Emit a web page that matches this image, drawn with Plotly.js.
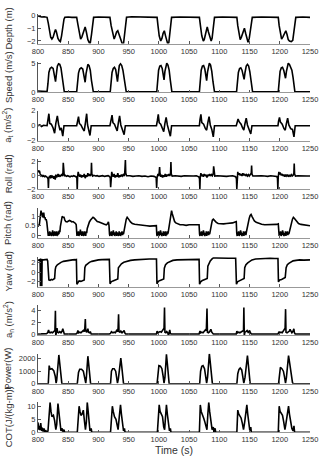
<!DOCTYPE html>
<html>
<head>
<meta charset="utf-8">
<script src="https://cdn.plot.ly/plotly-3.0.1.min.js"></script>
<style>
html, body { margin: 0; padding: 0; background: #fff; }
#chart { width: 324px; height: 461px; }
</style>
</head>
<body>
<div id="chart"></div>
<script>
// time ticks shared by every panel
const timeTicks = [800, 850, 900, 950, 1000, 1050, 1100, 1150, 1200, 1250];

// [time (s), value] pairs
const depth = [[800,-0.05],[803,-0.1],[806,-0.12],[810,-0.1],[813,-0.15],[815,-0.15],[817,-0.6],[819,-1.3],[821,-1.7],[823,-1.85],[825,-1.7],[827.5,-1.3],[829,-1.1],[830.5,-1.3],[833,-1.8],[835.5,-2.0],[837,-2.05],[839,-1.6],[841,-0.9],[843,-0.3],[844.5,-0.15],[850,-0.12],[856,-0.15],[864,-0.15],[866,-0.7],[868,-1.4],[870.5,-1.85],[872.5,-1.7],[875,-1.3],[878,-0.9],[880,-1.3],[882.5,-1.9],[885,-2.15],[886.5,-2.15],[888.5,-1.5],[890.5,-0.6],[892,-0.15],[900,-0.12],[910,-0.15],[919,-0.15],[921,-0.8],[923.5,-1.5],[926,-1.85],[928,-1.6],[930,-1.3],[932,-1.2],[934,-1.5],[937,-2.0],[940,-2.3],[941.5,-2.2],[943.5,-1.3],[945,-0.5],[946.5,-0.15],[955,-0.1],[970,-0.1],[985,-0.12],[997,-0.15],[998.5,-0.8],[1000.5,-1.6],[1003,-2.0],[1005,-1.8],[1007,-1.4],[1009,-1.2],[1011,-1.6],[1013,-2.1],[1015,-2.3],[1016.5,-2.1],[1018,-1.3],[1019.5,-0.5],[1021,-0.15],[1035,-0.12],[1050,-0.15],[1067,-0.15],[1069,-0.9],[1071,-1.6],[1073.5,-2.0],[1075,-1.9],[1077.5,-1.4],[1080,-0.9],[1082,-1.3],[1084.5,-1.8],[1086.5,-2.0],[1088,-1.8],[1089.5,-1.1],[1091,-0.4],[1092,-0.15],[1105,-0.12],[1118,-0.15],[1129,-0.15],[1130.5,-0.8],[1132.5,-1.5],[1134.5,-1.9],[1136.5,-1.7],[1139,-1.3],[1141.5,-1.0],[1143.5,-1.4],[1145.5,-1.9],[1147.5,-2.1],[1149.5,-1.8],[1151.5,-1.0],[1153,-0.4],[1154.5,-0.15],[1170,-0.12],[1185,-0.15],[1197.5,-0.15],[1199,-0.8],[1201,-1.5],[1203,-1.85],[1205,-1.7],[1207.5,-1.4],[1210,-1.2],[1212,-1.5],[1214,-1.9],[1216,-2.0],[1219,-2.05],[1221.5,-1.95],[1223.5,-1.3],[1225,-0.5],[1226.5,-0.15],[1238,-0.12],[1250,-0.15]];

const speed = [[800,0.2],[808,0.15],[815,0.1],[816.5,1.5],[818,3.4],[820,4.1],[822.5,4.3],[825,4.1],[827,3.0],[829,1.8],[830.5,3.2],[832,4.5],[834,4.9],[836,4.8],[838,4.2],[840,2.5],[842,0.8],[843.5,0.05],[864,0.05],[865.5,1.5],[867,3.3],[869,4.0],[871.5,4.2],[874,4.0],[876,3.0],[878,1.7],[879.5,3.2],[881,4.5],[882.5,4.8],[884.5,4.6],[886.5,3.8],[888.5,2.0],[890,0.6],[891.5,0.05],[919.5,0.05],[921,1.5],[922.5,3.4],[924.5,4.1],[926.5,4.3],[928.5,3.9],[930,2.8],[931.5,1.8],[933,3.3],[934.5,4.6],[936.5,4.9],[938.5,4.6],[940.5,3.8],[942.5,2.2],[944.5,0.6],[946,0.05],[996.5,0.05],[998,1.8],[999.5,3.8],[1001.5,4.5],[1003.5,4.6],[1005.5,4.1],[1007,3.0],[1008.5,2.1],[1010,3.6],[1011.5,4.7],[1013,5.0],[1015,4.7],[1017,3.8],[1019,2.0],[1020.5,0.5],[1021.5,0.05],[1067,0.05],[1068.5,1.8],[1070,3.8],[1072,4.5],[1074,4.6],[1076,4.0],[1077.5,2.8],[1079,2.0],[1080.5,3.5],[1082,4.7],[1083.5,5.0],[1085.5,4.7],[1087.5,3.6],[1089.5,1.8],[1091,0.4],[1092,0.05],[1128.5,0.05],[1130,1.6],[1131.5,3.4],[1133.5,4.1],[1135.5,4.2],[1137.5,3.8],[1139.5,2.9],[1141,2.2],[1142.5,3.4],[1144.5,4.5],[1146.5,4.8],[1148.5,4.5],[1150.5,3.5],[1152.5,1.8],[1154,0.4],[1155,0.05],[1197.5,0.05],[1199,1.8],[1200.5,3.6],[1202.5,4.2],[1204.5,4.3],[1206.5,3.8],[1208,3.0],[1209.5,2.4],[1211,3.6],[1212.5,4.6],[1214,5.0],[1216,4.8],[1218,4.4],[1220,3.8],[1222,2.5],[1223.5,1.0],[1225,0.05],[1250,0.05]];

const accelT = [[800,0],[803,0.1],[806,-0.1],[809,0.05],[815,0],[816.5,0.8],[818,1.6],[819.5,0.3],[822,0.2],[825,-0.3],[827.5,-1.0],[829.5,0.3],[832,1.3],[834,0.2],[836.5,-0.6],[838.5,-0.3],[841,-1.4],[843,0],[864,0],[865.5,0.6],[867,1.2],[868.5,0.3],[871,0.1],[874,-0.4],[876.5,-0.7],[878.5,0.4],[880.5,1.6],[882,0.1],[884,-0.5],[886,-1.3],[888,0],[919,0],[920.5,0.6],[922.5,1.4],[924,0.4],[926.5,0.2],[929,-0.3],[931,-0.7],[933,0.4],[935,1.3],[937,0.1],[939.5,-0.5],[942.5,-1.2],[944.5,0],[996,0],[997.5,0.7],[999,1.5],[1000.5,0.4],[1003,0.2],[1006,-0.4],[1008,-0.8],[1010,0.3],[1012,1.1],[1014,0.1],[1016.5,-0.5],[1019,-1.4],[1021,0],[1067,0],[1068,0.8],[1069.5,1.5],[1071,0.4],[1074,0.2],[1077,-0.4],[1079,-0.6],[1081,0.4],[1083,1.2],[1085,0.1],[1087.5,-0.5],[1090,-1.5],[1092,0],[1128,0],[1129.5,0.5],[1131,0.9],[1133,0.5],[1136,0.2],[1138.5,-0.3],[1140.5,-0.6],[1142.5,0.3],[1144.5,1.0],[1146.5,0.1],[1149,-0.4],[1152,-1.1],[1154,0],[1197,0],[1198,0.6],[1199.5,1.1],[1201,0.5],[1204,0.2],[1207,-0.4],[1209,-0.6],[1211,0.3],[1213,1.0],[1215,0.1],[1218,-0.4],[1221,-0.5],[1223.5,-1.5],[1225.5,0],[1250,0]];

const roll = [[800,0.45],[800.8,0.7],[801.6,0.55],[802.5,0.65],[803.3,0.3],[804.2,0.1],[805,-0.1],[806.5,0],[808,-0.15],[809.5,-0.05],[811,-0.2],[812.5,-0.1],[814,-0.15],[815.5,-0.3],[816.6,-0.5],[817.2,-1.8],[817.8,-0.4],[818.8,-0.2],[820,-0.3],[821.2,0],[822.5,-0.4],[823.5,-0.1],[825,-0.2],[826.2,-0.5],[827.3,-0.1],[828.5,-0.6],[829.5,0.1],[830.8,-0.3],[832,-0.1],[833.2,0.2],[834.5,-0.2],[836,0],[837.5,-0.1],[839,0.1],[840.5,0],[841.3,0.4],[841.8,1.8],[842.4,0.3],[843.5,-0.1],[845,0],[847,-0.15],[849,-0.05],[851,-0.1],[853,-0.2],[855,-0.1],[857,-0.15],[859,-0.05],[861,-0.1],[863,-0.2],[864.3,-0.4],[864.9,-2.1],[865.5,-0.2],[866.5,0.5],[867.5,0.1],[869,-0.2],[870.5,0.1],[872,-0.3],[873.5,0],[875,-0.2],[876.5,0.2],[878,-0.4],[879.5,0],[881,-0.2],[882.5,0.3],[884,-0.1],[885.5,0.1],[887,0],[888,0.3],[888.5,1.8],[889.1,0.2],[890.5,-0.1],[892.5,0],[895,-0.1],[898,-0.05],[901,-0.15],[904,-0.1],[907,-0.05],[910,-0.15],[913,-0.1],[916,-0.05],[918,-0.15],[919.5,-0.3],[920.2,-1.7],[920.8,-0.2],[922,0.5],[923,0.1],[924.5,-0.2],[926,0.2],[927.5,-0.3],[929,0],[930.5,-0.2],[932,0.3],[933.5,-0.3],[935,0],[936.5,-0.2],[938,0.1],[939.5,-0.1],[941,0.1],[942.5,-0.1],[943.5,0.3],[944,1.0],[944.6,2.2],[945.2,0.3],[946.5,-0.05],[952,-0.05],[957,-0.15],[962,-0.1],[967,-0.05],[972,-0.15],[977,-0.1],[982,-0.2],[987,-0.1],[992,-0.15],[995.5,-0.3],[996.3,-1.8],[997,-0.3],[998.5,0.2],[999.5,-0.1],[1000.5,0.4],[1001.2,1.2],[1001.9,0.2],[1003,-0.2],[1004.5,0.1],[1006,-0.3],[1007.5,0],[1009,-0.2],[1010.5,0.2],[1012,-0.2],[1013.5,0.1],[1015,-0.1],[1016.5,0.2],[1018,-0.1],[1019.3,0.3],[1019.9,1.9],[1020.5,0.2],[1022,-0.1],[1027,-0.05],[1032,-0.1],[1037,-0.15],[1042,-0.05],[1047,-0.1],[1052,-0.15],[1057,-0.1],[1062,-0.05],[1066,-0.2],[1067.2,-0.5],[1067.8,-2.0],[1068.4,-0.3],[1069.5,0.3],[1070.5,-0.1],[1072,0.1],[1073.5,-0.2],[1075,0.2],[1076.5,-0.1],[1078,0.1],[1079.5,-0.3],[1081,0.1],[1082.5,-0.1],[1084,0.2],[1085.5,-0.1],[1087,0.1],[1088.5,-0.05],[1090,0.3],[1090.6,1.3],[1091.2,0.2],[1092.5,-0.1],[1097,-0.05],[1102,-0.1],[1107,-0.05],[1112,-0.15],[1117,-0.1],[1122,-0.05],[1127,-0.2],[1128.3,-0.5],[1128.9,-2.0],[1129.5,-0.3],[1130.5,0.5],[1131.5,0.1],[1133,0.3],[1134.5,0],[1136,0.2],[1137.5,-0.1],[1139,0.3],[1140.5,0],[1142,0.2],[1143.5,-0.1],[1145,0.1],[1146.5,-0.1],[1148,0.1],[1149.5,-0.1],[1151,0.1],[1152.8,0.3],[1153.4,1.4],[1154,0.2],[1155.5,-0.1],[1160,-0.05],[1165,-0.1],[1170,-0.05],[1175,-0.1],[1180,-0.15],[1185,-0.05],[1190,-0.1],[1195,-0.15],[1196.2,-0.4],[1196.8,-2.0],[1197.4,-0.3],[1198.5,0.5],[1199.5,0.2],[1201,0.3],[1202.5,0],[1204,0.2],[1205.5,-0.1],[1207,0.1],[1208.5,-0.2],[1210,0.1],[1211.5,-0.1],[1213,0.1],[1214.5,-0.2],[1216,0],[1217.5,-0.1],[1219,0.1],[1220.5,-0.1],[1222,0],[1223.3,0.3],[1223.9,1.7],[1224.5,0.2],[1226,-0.1],[1230,-0.05],[1235,-0.1],[1240,-0.05],[1245,-0.1],[1250,-0.1]];

const pitch = [[800,0.45],[801,0.55],[802,0.5],[803,0.7],[804,1.0],[805,1.3],[805.8,1.15],[806.5,1.2],[807.5,0.95],[808.5,1.0],[809.5,1.2],[810.5,0.9],[811.5,0.95],[812.5,0.8],[813.5,0.85],[814.5,0.7],[815.3,0.35],[816,0.05],[817,-0.05],[817.8,0.15],[818.6,-0.05],[819.4,0.2],[820.2,0],[821,0.15],[821.8,-0.05],[822.6,0.1],[823.4,0.05],[824.2,0.25],[825,-0.05],[825.8,0.1],[826.6,0],[827.4,0.2],[828.2,-0.05],[829,0.15],[829.8,0.05],[830.6,0.2],[831.4,-0.05],[832.2,0.1],[833,0],[833.8,0.2],[834.6,0.05],[835.4,0.25],[836.2,0.15],[837,0.45],[838,0.6],[839,0.85],[840,1.0],[841.5,0.95],[843,0.95],[844.5,0.8],[846,0.72],[848,0.7],[850,0.72],[852,0.78],[854,0.75],[856,0.7],[858,0.72],[860,0.68],[862,0.62],[863.2,0.55],[863.8,0.1],[864.5,-0.05],[865.3,0.15],[866.1,0],[866.9,0.2],[867.7,-0.05],[868.5,0.1],[869.3,0],[870.1,0.3],[870.9,0.05],[871.7,0.15],[872.5,-0.05],[873.3,0.2],[874.1,0],[874.9,0.1],[875.7,-0.05],[876.5,0.2],[877.3,0.05],[878.1,0.15],[878.9,-0.05],[879.7,0.2],[880.5,0.1],[881.5,0.35],[883,0.55],[885,0.7],[887,0.8],[889,0.85],[891,0.95],[893,0.9],[895,0.8],[898,0.72],[901,0.7],[904,0.65],[907,0.6],[910,0.58],[913,0.55],[915,0.6],[916.5,0.7],[917.5,0.5],[918.3,0.05],[919,-0.05],[919.8,0.15],[920.6,0],[921.4,0.2],[922.2,-0.05],[923,0.1],[923.8,0],[924.6,0.25],[925.4,0],[926.2,0.15],[927,-0.05],[927.8,0.1],[928.6,0.05],[929.4,0.2],[930.2,-0.05],[931,0.15],[931.8,0],[932.6,0.1],[933.4,-0.05],[934.2,0.2],[935,0],[935.8,0.15],[936.6,-0.05],[937.4,0.1],[938.2,0.05],[939,0.2],[939.8,0],[940.6,0.1],[941.4,0.05],[942.2,0.2],[943,0.3],[944,0.5],[945,0.7],[946,0.85],[947.5,0.95],[949,0.9],[951,0.8],[953,0.7],[956,0.62],[960,0.58],[965,0.55],[970,0.52],[975,0.5],[980,0.5],[985,0.48],[990,0.5],[994,0.52],[995.8,0.5],[996.5,0.05],[997,-0.05],[997.8,0.15],[998.6,0],[999.4,0.2],[1000.2,-0.05],[1001,0.1],[1001.8,0],[1002.6,0.25],[1003.4,0.05],[1004.2,0.15],[1005,-0.05],[1005.8,0.1],[1006.6,0],[1007.4,0.2],[1008.2,-0.05],[1009,0.15],[1009.8,0.05],[1010.6,0.2],[1011.4,-0.05],[1012.2,0.1],[1013,0],[1013.8,0.2],[1014.6,0.05],[1015.4,0.15],[1016.2,0.3],[1017,0.5],[1018,0.75],[1019,1.0],[1020,1.2],[1021,1.3],[1022,1.15],[1023,1.0],[1024.5,0.85],[1026,0.72],[1028,0.65],[1031,0.6],[1035,0.55],[1040,0.55],[1045,0.52],[1050,0.55],[1055,0.55],[1060,0.55],[1064,0.58],[1066.5,0.55],[1067.3,0.05],[1068,-0.05],[1068.8,0.15],[1069.6,0],[1070.4,0.2],[1071.2,-0.05],[1072,0.1],[1072.8,0],[1073.6,0.25],[1074.4,0.05],[1075.2,0.15],[1076,-0.05],[1076.8,0.1],[1077.6,0],[1078.4,0.2],[1079.2,-0.05],[1080,0.15],[1080.8,0.05],[1081.6,0.2],[1082.4,0],[1083.2,0.1],[1084,0.05],[1084.8,0.25],[1085.6,0.35],[1086.5,0.5],[1087.5,0.65],[1088.5,0.8],[1090,0.85],[1091.5,0.8],[1093,0.72],[1095,0.68],[1098,0.62],[1102,0.6],[1107,0.6],[1112,0.62],[1117,0.62],[1122,0.65],[1126,0.7],[1128,0.72],[1128.8,0.1],[1129.5,-0.05],[1130.3,0.15],[1131.1,0],[1131.9,0.2],[1132.7,-0.05],[1133.5,0.1],[1134.3,0],[1135.1,0.25],[1135.9,0.05],[1136.7,0.15],[1137.5,-0.05],[1138.3,0.1],[1139.1,0],[1139.9,0.2],[1140.7,-0.05],[1141.5,0.15],[1142.3,0.05],[1143.1,0.2],[1143.9,0],[1144.7,0.15],[1145.5,0.3],[1146.5,0.5],[1148,0.7],[1149.5,0.9],[1151,1.05],[1152.5,1.1],[1154,1.0],[1156,0.85],[1158,0.75],[1161,0.68],[1165,0.62],[1170,0.58],[1175,0.55],[1180,0.55],[1185,0.55],[1190,0.55],[1195,0.57],[1197.5,0.6],[1198.3,0.1],[1199,-0.05],[1199.8,0.15],[1200.6,0],[1201.4,0.2],[1202.2,-0.05],[1203,0.1],[1203.8,0],[1204.6,0.25],[1205.4,0.05],[1206.2,0.15],[1207,-0.05],[1207.8,0.1],[1208.6,0],[1209.4,0.2],[1210.2,-0.05],[1211,0.15],[1211.8,0.05],[1212.6,0.2],[1213.4,0],[1214.2,0.1],[1215,0.05],[1215.8,0.2],[1216.6,0.3],[1217.5,0.4],[1218.5,0.5],[1219.5,0.65],[1221,0.85],[1222.5,0.95],[1224,0.9],[1226,0.8],[1228,0.7],[1231,0.62],[1235,0.57],[1240,0.55],[1245,0.52],[1250,0.5]];

const yaw = [[800,2.4],[802,2.5],[803.5,2.6],[804,-2.9],[804.5,2.6],[805.8,2.6],[806.3,-2.9],[806.8,2.5],[809,2.5],[812,2.6],[815,2.6],[816,2.3],[816.8,-1.5],[818,-1.6],[820,-1.7],[822,-1.5],[824,-1.6],[826,-1.5],[827.5,-1.3],[828.5,0.5],[829.5,1.1],[832,1.5],[835,1.8],[838,2.0],[842,2.2],[847,2.35],[852,2.45],[857,2.5],[862,2.55],[863.5,2.6],[864.3,-2.5],[866,-2.0],[868,-1.8],[871,-1.9],[874,-1.8],[876.5,-1.6],[877.5,0.9],[879,1.4],[882,1.7],[885,2.0],[889,2.2],[894,2.4],[900,2.5],[906,2.55],[912,2.6],[918,2.6],[919.2,-2.4],[921,-2.0],[924,-1.8],[927,-1.7],[930,-1.5],[932,-1.4],[933,0.9],[935,1.3],[938,1.7],[942,2.0],[947,2.2],[953,2.4],[960,2.5],[968,2.6],[976,2.65],[984,2.7],[991,2.7],[996,2.7],[996.8,-2.4],[999,-1.9],[1002,-1.7],[1005,-1.5],[1008,-1.4],[1009,0.8],[1011,1.5],[1014,1.9],[1018,2.2],[1023,2.4],[1030,2.5],[1038,2.55],[1046,2.6],[1054,2.6],[1062,2.6],[1066.5,2.6],[1067.3,-2.5],[1069,-2.0],[1072,-1.7],[1075,-1.6],[1078,-1.4],[1080,-1.3],[1081,1.2],[1083,1.9],[1085,2.3],[1088,2.7],[1090,2.9],[1095,2.9],[1100,2.85],[1108,2.9],[1115,2.85],[1122,2.85],[1127,2.85],[1128.3,-2.5],[1130,-2.0],[1133,-1.8],[1136,-1.6],[1139,-1.4],[1141,-1.3],[1142,0.9],[1144,1.5],[1147,1.9],[1150,2.2],[1154,2.5],[1160,2.7],[1168,2.8],[1176,2.8],[1184,2.85],[1192,2.8],[1197,2.8],[1197.8,-2.0],[1200,-1.6],[1203,-1.5],[1206,-1.3],[1209,-1.1],[1210.5,0.9],[1212.5,1.5],[1215,1.8],[1218,2.1],[1222,2.3],[1227,2.4],[1233,2.5],[1240,2.45],[1250,2.5]];

const accelN = [[800,0],[805,0.05],[810,0],[814,0.05],[816,0.2],[817.5,0.7],[818.5,0.3],[820,0.2],[822,0.3],[824,0.2],[826,0.4],[828,0.6],[828.8,4.0],[829.4,-0.3],[830.5,0.3],[831.5,1.0],[832.5,0.3],[834,0.2],[836,0.4],[838,0.2],[840,0.5],[841,0.9],[842,0.3],[843.5,0],[863,0],[865,0.2],[866,0.6],[867,0.2],[869,0.3],[871,0.2],[873,0.4],[875,0.6],[876.5,0.4],[877.5,1.0],[878.3,2.6],[879,0.5],[880.5,0.3],[881.5,0.6],[882.5,0.9],[883.5,0.3],[885,0.2],[886.5,0.4],[888,0],[918,0],[920,0.1],[921.5,0.4],[922.5,0.3],[924,0.2],[926,0.3],[928,0.2],[930,0.6],[931.5,0.4],[932.5,1.0],[933.3,3.4],[934,0.4],[935.5,0.3],[937,0.5],[939,0.2],[941,0.4],[942.5,0.6],[944,0.1],[945,0],[996,0],[997,0.5],[998,0.2],[1000,0.3],[1002,0.4],[1004,0.3],[1006,0.6],[1007.5,0.8],[1008.5,1.0],[1009.3,4.6],[1010,0.3],[1011.5,0.2],[1013,0.4],[1015,0.1],[1016,-0.5],[1016.8,0.2],[1018,0.7],[1019,0.1],[1020,0],[1066.5,0],[1068,0.5],[1069,0.2],[1071,0.3],[1073,0.2],[1075,0.5],[1077,0.7],[1078.5,0.6],[1079.6,4.4],[1080.3,0.3],[1082,0.2],[1084,0.4],[1086,0.8],[1087.5,0.3],[1089,0.1],[1090,0],[1128,0],[1129,0.5],[1130,0.2],[1132,0.3],[1134,0.2],[1136,0.3],[1138,0.5],[1140,0.6],[1140.6,4.6],[1141.3,-0.4],[1142.2,0.3],[1144,0.4],[1146,0.6],[1148,0.2],[1150,0.6],[1151.5,0.2],[1153,0],[1197,0],[1199,0.4],[1200,0.2],[1202,0.3],[1204,0.2],[1206,0.6],[1207.5,0.7],[1208.8,1.0],[1209.6,4.3],[1210.3,0.3],[1212,0.2],[1214,0.4],[1216,0.5],[1217,0.8],[1218.5,0.3],[1220,0.2],[1222,0.5],[1223.3,0.9],[1224.2,0.2],[1225.5,0],[1250,0]];

const power = [[800,0],[817,0],[818.5,1450],[820,1150],[823,1200],[826,1050],[828.5,600],[830,50],[831,300],[833,1800],[834.5,2300],[836,1600],[838,300],[839.5,0],[865,0],[867,900],[869,1150],[872,1150],[875,1000],[877.5,500],[879,50],[880,500],[881.5,1900],[882.5,2200],[884,1500],[886,200],[887,0],[920,0],[921.5,1000],[923.5,1200],[926,1200],[928.5,1000],[930,400],[931.5,50],[933,400],[935,1500],[937,2050],[938.5,1400],[940.5,200],[941.5,0],[997,0],[998.5,1200],[1000,1450],[1002.5,1400],[1005,1200],[1007,600],[1008.5,50],[1010,500],[1011.5,1900],[1012.5,2350],[1014,1600],[1016,300],[1017,0],[1067.5,0],[1069,1000],[1071,1400],[1073,1450],[1075.5,1200],[1077.5,500],[1079,50],[1080.5,500],[1082.5,1900],[1083.5,2400],[1085,1700],[1087.5,300],[1088.5,0],[1129,0],[1130.5,800],[1132.5,1150],[1134.5,1250],[1137,1100],[1139,500],[1140.5,50],[1142.5,500],[1145,1800],[1146.5,2250],[1148,1500],[1150,300],[1151,0],[1198,0],[1199.5,1100],[1201,1300],[1203.5,1200],[1206,1000],[1208,500],[1209.5,50],[1211,500],[1213,1800],[1214.5,2250],[1216.5,1600],[1219,600],[1221,100],[1222,0],[1250,0]];

const cot = [[800,3.8],[801,1],[802,2.5],[803,0.8],[804.5,3.5],[806,0.5],[807,1.8],[808.5,0.3],[810,1.5],[811,0.2],[813,0.6],[815,0],[816.5,0.5],[818,6],[820,11.5],[821.5,8],[823,6],[825.5,6.5],[827.5,4.5],[829.5,1],[831,3],[833,11],[834.5,8],[836.5,3],[838,0.5],[840,1.5],[841,0.3],[843,1],[844,0],[865,0],[866.5,5],[868,10],[869.5,8],[871,6.5],[873,7],[875,8.5],[876.5,5],[878.5,1],[880,4],[881.5,11.5],[883,8],[884.5,4],[886,0.5],[888,1.5],[889,0],[920,0],[921.5,6],[923,10],[924.5,8],[926.5,6],[929,5],[931,2],[932.5,1],[934.5,6],[936.5,10.5],[938,7],[940,3],[941.5,0.5],[943,1.5],[944,0],[997.5,0],[999,6],[1000.5,10.5],[1002,8],[1004,7],[1006,6],[1008,2],[1009.5,1],[1011,6],[1012.5,10.5],[1014,7],[1016,2],[1017.5,0.5],[1019,1.5],[1020,0],[1067,0],[1068.5,10.5],[1070,8],[1072,7],[1074,5.5],[1076,4],[1078,1.5],[1079.5,1],[1081,7],[1082.5,11.5],[1084,8],[1086,4],[1088,1],[1090,2],[1091,0.2],[1093,1.5],[1094,0],[1129,0],[1130.5,8.5],[1132,7],[1134,6],[1136,5.5],[1138,3.5],[1140,1],[1142,4],[1144,8],[1145.5,10.5],[1147,7],[1149,3],[1150.5,0.5],[1152,2],[1153,0],[1197.5,0],[1199,10],[1200.5,8],[1202.5,7],[1204.5,6.5],[1206.5,4],[1208.5,1],[1210,3],[1212,7],[1214.5,10],[1216,7],[1218,4],[1220,1.5],[1222,0.5],[1223.5,2.5],[1224.5,0],[1250,0]];

const panels = [
	{data: depth,  label: "Depth (m)",   range: [-2.2, 0.15],   ticks: [-2, -1, 0]},
	{data: speed,  label: "Speed (m/s)", range: [0, 5.2],       ticks: [0, 5]},
	{data: accelT, label: "a<sub>t</sub> (m/s<sup>2</sup>)", range: [-2, 2], ticks: [-2, 0, 2]},
	{data: roll,   label: "Roll (rad)",  range: [-2, 2.3],      ticks: [-2, 0, 2]},
	{data: pitch,  label: "Pitch (rad)", range: [-0.15, 1.45],  ticks: [0, 0.5, 1]},
	{data: yaw,    label: "Yaw (rad)",   range: [-2.95, 3.2],   ticks: [-2, 0, 2]},
	{data: accelN, label: "a<sub>n</sub> (m/s<sup>2</sup>)", range: [-0.2, 5.0], ticks: [0, 2, 4]},
	{data: power,  label: "Power(W)",    range: [0, 2400],      ticks: [0, 1000, 2000]},
	{data: cot,    label: "COT(J/(kg-m))", range: [0, 11.5],    ticks: [0, 5, 10]}
];

const W = 324, H = 461;
const margin = {l: 38, r: 14, t: 10, b: 28};
const plotH = H - margin.t - margin.b;
const tickFont = {family: "Liberation Sans, Arial, sans-serif", size: 7.5, color: "#333"};
const labelFont = {family: "Liberation Sans, Arial, sans-serif", size: 9.5, color: "#333"};

// pixel bottom of panel k, each panel 30px tall
const panelBottom = k => 43.5 + 48.6 * k;
const toPaper = px => (H - margin.b - px) / plotH;

const traces = [];
const layout = {
	width: W,
	height: H,
	margin: margin,
	paper_bgcolor: "#fff",
	plot_bgcolor: "#fff",
	showlegend: false,
	hovermode: false,
	annotations: []
};

panels.forEach((p, k) => {
	const s = k === 0 ? "" : String(k + 1);
	traces.push({
		x: p.data.map(d => d[0]),
		y: p.data.map(d => d[1]),
		xaxis: "x" + s,
		yaxis: "y" + s,
		type: "scatter",
		mode: "lines",
		line: {color: "#000", width: 1.6},
		cliponaxis: true
	});
	const bottom = panelBottom(k);
	const top = bottom - 30;
	layout["xaxis" + s] = {
		domain: [0, 1],
		anchor: "y" + s,
		range: [800, 1250],
		tickvals: timeTicks,
		ticktext: timeTicks.map(String),
		ticks: "inside",
		ticklen: 2.5,
		tickcolor: "#555",
		showline: true,
		linecolor: "#999",
		linewidth: 1,
		showgrid: false,
		zeroline: false,
		tickfont: tickFont,
		fixedrange: true
	};
	layout["yaxis" + s] = {
		domain: [toPaper(bottom), toPaper(top)],
		anchor: "x" + s,
		range: p.range,
		tickvals: p.ticks,
		ticks: "inside",
		ticklen: 2.5,
		tickcolor: "#555",
		showline: true,
		linecolor: "#555",
		linewidth: 1,
		showgrid: false,
		zeroline: false,
		tickfont: tickFont,
		fixedrange: true
	};
	layout.annotations.push({
		text: p.label,
		xref: "paper",
		yref: "paper",
		x: (8 - margin.l) / (W - margin.l - margin.r),
		y: toPaper(bottom - 15),
		xanchor: "center",
		yanchor: "middle",
		textangle: -90,
		showarrow: false,
		font: labelFont
	});
});

layout.xaxis9.title = {
	text: "Time (s)",
	font: {family: "Liberation Sans, Arial, sans-serif", size: 10.5, color: "#333"},
	standoff: 2
};

Plotly.newPlot("chart", traces, layout, {displayModeBar: false, staticPlot: true});
</script>
</body>
</html>
